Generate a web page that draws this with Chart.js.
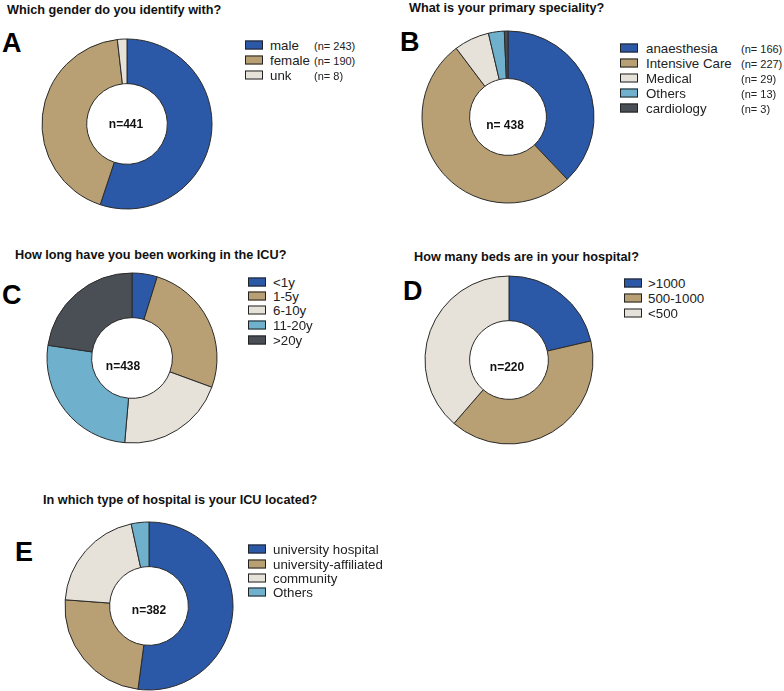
<!DOCTYPE html>
<html><head><meta charset="utf-8">
<script src="https://cdn.jsdelivr.net/npm/chart.js@4"></script>
<style>
body{margin:0;background:#fff;}
#wrap{position:relative;width:784px;height:691px;overflow:hidden;font-family:"Liberation Sans",Arial,sans-serif;color:#111;}
.abs{position:absolute;white-space:nowrap;}
.title{font-weight:bold;font-size:12.7px;transform:translateY(-50%);}
.letter{font-weight:bold;font-size:27px;transform:translateY(-50%);color:#000;}
.center{font-weight:bold;font-size:12px;transform:translate(-50%,-50%);}
.box{width:16px;height:7px;border:1px solid #222;transform:translateY(-50%);}
.lab{font-size:13.3px;transform:translateY(-50%);color:#222;}
.nv{font-size:11px;transform:translateY(-50%);color:#222;}
canvas{position:absolute;}
</style></head>
<body><div id="wrap"></div>
<script>
// ---- data ----
const genderLabels = ["male","female","unk"];
const genderValues = [243,190,8];
const specialityLabels = ["anaesthesia","Intensive Care","Medical","Others","cardiology"];
const specialityValues = [166,227,29,13,3];
const icuYearsLabels = ["<1y","1-5y","6-10y","11-20y",">20y"];
const icuYearsValues = [21,113,91,114,99];
const bedsLabels = [">1000","500-1000","<500"];
const bedsValues = [47,88,85];
const hospitalTypeLabels = ["university hospital","university-affiliated","community","Others"];
const hospitalTypeValues = [199,92,78,13];

const BLUE="#2C58A8", TAN="#B8A074", LIGHT="#E6E2D9", LBLUE="#6FB1CC", DARK="#4A4E55";

const panels = [
 {letter:"A", title:"Which gender do you identify with?", labels:genderLabels, values:genderValues,
  colors:[BLUE,TAN,LIGHT], showN:true, center:"n=441",
  cx:126.5, cy:124, r:85, cut:42, tx:7, ty:10, lx:2, ly:43, ctx:126, cty:124,
  boxX:245, labX:270, nX:314, rows:[45,60,75]},
 {letter:"B", title:"What is your primary speciality?", labels:specialityLabels, values:specialityValues,
  colors:[BLUE,TAN,LIGHT,LBLUE,DARK], showN:true, center:"n= 438",
  cx:508, cy:117, r:86, cut:40, tx:409, ty:8, lx:400, ly:42, ctx:505, cty:125,
  boxX:620, labX:646, nX:741, rows:[48,63,78,93,108]},
 {letter:"C", title:"How long have you been working in the ICU?", labels:icuYearsLabels, values:icuYearsValues,
  colors:[BLUE,TAN,LIGHT,LBLUE,DARK], showN:false, center:"n=438",
  cx:132, cy:358, r:85, cut:42, tx:15, ty:255, lx:2, ly:295, ctx:123, cty:366,
  boxX:248, labX:273, rows:[282,296,310,325,340]},
 {letter:"D", title:"How many beds are in your hospital?", labels:bedsLabels, values:bedsValues,
  colors:[BLUE,TAN,LIGHT], showN:false, center:"n=220",
  cx:509, cy:360, r:84, cut:41, tx:414, ty:257, lx:403, ly:291, ctx:507, cty:367,
  boxX:624, labX:648, rows:[283,298,313]},
 {letter:"E", title:"In which type of hospital is your ICU located?", labels:hospitalTypeLabels, values:hospitalTypeValues,
  colors:[BLUE,TAN,LIGHT,LBLUE], showN:false, center:"n=382",
  cx:149, cy:606, r:84, cut:41, tx:43, ty:500, lx:15, ly:552, ctx:149, cty:610,
  boxX:248, labX:273, rows:[549,564,578,592]}
];

const wrap = document.getElementById("wrap");
function add(cls, text, x, y){
  const d=document.createElement("div"); d.className="abs "+cls; d.textContent=text;
  d.style.left=x+"px"; d.style.top=y+"px"; wrap.appendChild(d); return d;
}

panels.forEach(p=>{
  add("title", p.title, p.tx, p.ty);
  add("letter", p.letter, p.lx, p.ly);
  const size = 2*p.r+8;
  const c=document.createElement("canvas");
  c.width=size; c.height=size;
  c.style.width=size+"px"; c.style.height=size+"px";
  c.style.left=(p.cx-size/2)+"px"; c.style.top=(p.cy-size/2)+"px";
  wrap.appendChild(c);
  new Chart(c,{type:"doughnut",
    data:{labels:p.labels,datasets:[{data:p.values,backgroundColor:p.colors,borderColor:"#2a2a2a",borderWidth:1,radius:p.r,cutout:p.cut}]},
    options:{responsive:false,animation:false,events:[],layout:{padding:0},
      plugins:{legend:{display:false},tooltip:{enabled:false}}}});
  add("center", p.center, p.ctx, p.cty);
  p.labels.forEach((l,i)=>{
    const b=add("box","",p.boxX,p.rows[i]); b.style.background=p.colors[i];
    add("lab", l, p.labX, p.rows[i]);
    if(p.showN) add("nv", "(n= "+p.values[i]+")", p.nX, p.rows[i]+1);
  });
});
</script></body></html>
